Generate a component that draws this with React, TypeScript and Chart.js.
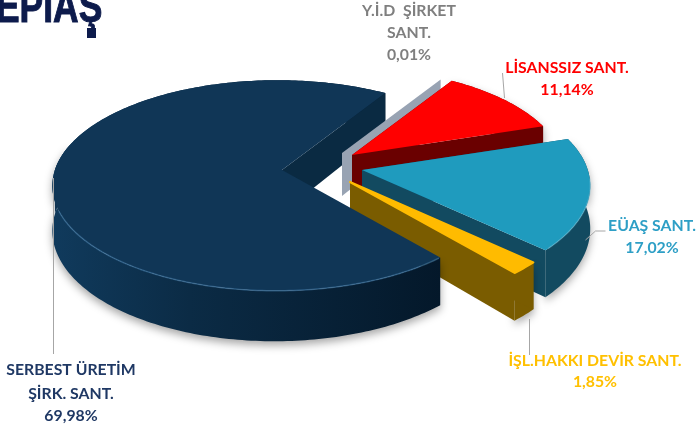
import React, { useEffect, useRef } from "react";
import { Chart, registerables } from "chart.js";

Chart.register(...registerables);

const categories = ["SERBEST ÜRETİM ŞİRK. SANT.", "Y.İ.D  ŞİRKET SANT.", "LİSANSSIZ SANT.", "EUAŞ SANT.", "İŞL.HAKKI DEVİR SANT."];
const shares = [69.98, 0.01, 11.14, 17.02, 1.85];
const shareLabels = ["69,98%", "0,01%", "11,14%", "17,02%", "1,85%"];

const topColors = ["#103656", "#98a3b3", "#ff0000", "#1f9bbe", "#ffbb00"];
const wallColors = ["#0a2a42", "#98a3b3", "#6a0000", "#124a60", "#7a5c00"];
const tips = [[282, 170], [342, 153], [352, 155], [362, 170], [350, 182]];
const radiusScale = [1, 0.955, 0.965, 1.04, 1.04];

const labelBlocks = [
  { lines: ["SERBEST ÜRETİM", "ŞİRK. SANT.", shareLabels[0]], x: 71, ys: [370, 394, 416], color: "#1f3864" },
  { lines: ["Y.İ.D  ŞİRKET", "SANT.", shareLabels[1]], x: 409, ys: [11, 33, 55], color: "#7f7f7f" },
  { lines: ["LİSANSSIZ SANT.", shareLabels[2]], x: 567, ys: [68, 90], color: "#ff0000" },
  { lines: ["EÜAŞ SANT.", shareLabels[3]], x: 652, ys: [226, 248], color: "#2e9fc6" },
  { lines: ["İŞL.HAKKI DEVİR SANT.", shareLabels[4]], x: 595, ys: [361, 382], color: "#ffc000" },
];
const leaders = [
  [[53, 178], [53, 354]],
  [[502, 73], [504, 98]],
  [[585, 240], [595, 231], [605, 231]],
  [[529, 319], [529, 355]],
];

const SQUASH = 0.464;
const PERSP = 0.147;
const SKEW = 0.0225;
const DEPTH = 43;

type Pt = [number, number];

function projector(arc: any, i: number) {
  const A = arc.outerRadius * radiusScale[i];
  const B = A * SQUASH;
  const [tx, ty] = tips[i];
  const at = (th: number, r = 1, drop = 0): Pt => {
    const u = Math.cos(th) * r;
    const v = Math.sin(th) * r;
    const w = 1 - PERSP * v + SKEW * u;
    return [tx + (A * u) / w, ty + (B * v) / w + (drop * DEPTH) / w];
  };
  return at;
}

function trace(ctx: CanvasRenderingContext2D, pts: Pt[]) {
  ctx.beginPath();
  pts.forEach((p, k) => (k ? ctx.lineTo(p[0], p[1]) : ctx.moveTo(p[0], p[1])));
  ctx.closePath();
}

function arcPoints(at: (t: number, r?: number, d?: number) => Pt, a0: number, a1: number, drop: number) {
  const n = Math.max(2, Math.ceil(((a1 - a0) * 180) / Math.PI));
  const out: Pt[] = [];
  for (let k = 0; k <= n; k++) out.push(at(a0 + ((a1 - a0) * k) / n, 1, drop));
  return out;
}

function drawWall(ctx: CanvasRenderingContext2D, arc: any, i: number, th: number, color: string) {
  const at = projector(arc, i);
  trace(ctx, [at(th, 0), at(th, 1), at(th, 1, 1), at(th, 0, 1)]);
  ctx.fillStyle = color;
  ctx.fill();
}

function rimFill(ctx: CanvasRenderingContext2D, i: number) {
  if (i === 0) {
    const g = ctx.createLinearGradient(55, 0, 441, 0);
    g.addColorStop(0, "#103a5c");
    g.addColorStop(0.35, "#0b2b45");
    g.addColorStop(1, "#04182a");
    return g;
  }
  return wallColors[i];
}

function drawRim(ctx: CanvasRenderingContext2D, arc: any, i: number, a0: number, a1: number, shadow: boolean) {
  const at = projector(arc, i);
  const top = arcPoints(at, a0, a1, 0);
  const bottom = arcPoints(at, a0, a1, 1).reverse();
  ctx.save();
  if (shadow) {
    ctx.shadowColor = "rgba(0,0,0,0.35)";
    ctx.shadowBlur = 9;
    ctx.shadowOffsetY = 4;
  }
  trace(ctx, top.concat(bottom));
  ctx.fillStyle = rimFill(ctx, i);
  ctx.fill();
  ctx.restore();
}

function drawTop(ctx: CanvasRenderingContext2D, arc: any, i: number, color: string) {
  const at = projector(arc, i);
  const pts = [at(arc.startAngle, 0), ...arcPoints(at, arc.startAngle, arc.endAngle, 0)];
  trace(ctx, pts);
  ctx.fillStyle = color;
  ctx.fill();
  if (i === 4) {
    ctx.lineJoin = "round";
    ctx.lineWidth = 2;
    ctx.strokeStyle = color;
    ctx.stroke();
  }
  // lit bevel on the front edge of the top face
  if (i === 0 || i === 3) {
    const a0 = i === 0 ? Math.PI * 0.28 : Math.PI * 2 + 0.08;
    const a1 = i === 0 ? Math.PI * 0.88 : arc.endAngle - 0.02;
    const edge = arcPoints(at, a0, a1, 0);
    ctx.beginPath();
    edge.forEach((p, k) => (k ? ctx.lineTo(p[0], p[1]) : ctx.moveTo(p[0], p[1])));
    ctx.strokeStyle = i === 0 ? "rgba(64,120,165,0.55)" : "rgba(110,190,215,0.4)";
    ctx.lineWidth = 1.5;
    ctx.stroke();
  }
}

function drawSlice(ctx: CanvasRenderingContext2D, arc: any, i: number, color: string) {
  drawRim(ctx, arc, i, arc.startAngle, arc.endAngle, true);
  drawWall(ctx, arc, i, arc.startAngle, wallColors[i]);
  drawWall(ctx, arc, i, arc.endAngle, wallColors[i]);
  drawTop(ctx, arc, i, color);
}

const pie3d = {
  id: "pie3d",
  beforeDatasetDraw(chart: any) {
    const ctx: CanvasRenderingContext2D = chart.ctx;
    const arcs = chart.getDatasetMeta(0).data;
    const colors = chart.data.datasets[0].backgroundColor;
    const big = arcs[0];
    ctx.save();
    // back of the big slice sits behind everything else
    drawRim(ctx, big, 0, Math.PI, big.endAngle, false);
    drawWall(ctx, big, 0, big.endAngle, wallColors[0]);
    // the thin slice is only its wall
    drawWall(ctx, arcs[1], 1, arcs[1].startAngle, wallColors[1]);
    for (let i = 2; i < arcs.length; i++) drawSlice(ctx, arcs[i], i, colors[i]);
    // front of the big slice sits in front of everything else
    drawRim(ctx, big, 0, big.startAngle, Math.PI + 0.25, true);
    drawTop(ctx, big, 0, colors[0]);
    ctx.restore();
    return false;
  },
  afterDraw(chart: any) {
    const ctx: CanvasRenderingContext2D = chart.ctx;
    ctx.save();
    ctx.strokeStyle = "#a6a6a6";
    ctx.lineWidth = 1;
    leaders.forEach((line) => {
      ctx.beginPath();
      line.forEach((p, k) => (k ? ctx.lineTo(p[0] + 0.5, p[1]) : ctx.moveTo(p[0] + 0.5, p[1])));
      ctx.stroke();
    });
    ctx.textAlign = "center";
    ctx.textBaseline = "middle";
    ctx.font = "bold 15.8px Lato";
    labelBlocks.forEach((b) => {
      ctx.fillStyle = b.color;
      b.lines.forEach((t, k) => ctx.fillText(t, b.x, b.ys[k]));
    });
    // logo
    ctx.fillStyle = "#0d1b4c";
    ctx.strokeStyle = "#0d1b4c";
    ctx.fillRect(87, 28, 9, 10);
    ctx.translate(-4, 22);
    ctx.scale(0.77, 1);
    ctx.textAlign = "left";
    ctx.textBaseline = "alphabetic";
    ctx.font = "bold 46px 'Liberation Sans'";
    ctx.lineWidth = 1;
    ctx.fillText("EPİAŞ", 0, 0);
    ctx.strokeText("EPİAŞ", 0, 0);
    ctx.restore();
  },
};

export default function App() {
  const ref = useRef<HTMLCanvasElement>(null);
  useEffect(() => {
    const chart = new Chart(ref.current!, {
      type: "pie",
      data: {
        labels: categories,
        datasets: [{ data: shares, backgroundColor: topColors, borderWidth: 0 }],
      },
      options: {
        responsive: false,
        animation: false,
        rotation: 140,
        radius: 222,
        plugins: { legend: { display: false }, tooltip: { enabled: false } },
      } as any,
      plugins: [pie3d as any],
    });
    return () => chart.destroy();
  }, []);
  return (
    <div style={{ position: "absolute", left: 0, top: 0, width: 699, height: 432, background: "#fff" }}>
      <canvas ref={ref} width={699} height={432} style={{ display: "block" }} />
    </div>
  );
}
